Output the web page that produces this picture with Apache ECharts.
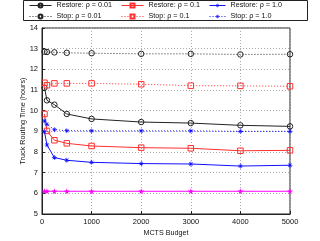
<!DOCTYPE html>
<html><head><meta charset="utf-8">
<script src="https://cdn.jsdelivr.net/npm/echarts@6/dist/echarts.min.js"></script>
<style>html,body{margin:0;padding:0;background:#fff}#c{width:320px;height:241px}</style>
</head><body><div id="c"></div>
<script>
const budgets = [50, 100, 250, 500, 1000, 2000, 3000, 4000, 5000];
const restore001 = [11.11, 10.5, 10.29, 9.84, 9.6, 9.45, 9.4, 9.29, 9.24];
const stop001 = [12.85, 12.84, 12.82, 12.8, 12.78, 12.75, 12.75, 12.72, 12.73];
const restore01 = [9.84, 9.02, 8.57, 8.42, 8.29, 8.21, 8.18, 8.06, 8.08];
const stop01 = [11.35, 11.23, 11.32, 11.32, 11.32, 11.28, 11.21, 11.2, 11.18];
const restore10 = [8.98, 8.34, 7.73, 7.6, 7.5, 7.44, 7.42, 7.32, 7.36];
const stop10 = [9.5, 9.34, 9.08, 9.03, 9.02, 9.02, 9.02, 9.0, 9.0];
const baseline = [6.1, 6.1, 6.1, 6.1, 6.1, 6.1, 6.1, 6.1, 6.1];
const xTicks = [0, 1000, 2000, 3000, 4000, 5000];
const yTicks = [5, 6, 7, 8, 9, 10, 11, 12, 13, 14];

const ast = 'path://M0,4.4L10,4.4L10,5.6L0,5.6Z M4.4,0L5.6,0L5.6,10L4.4,10Z M1.2,2L2,1.2L8.8,8L8,8.8Z M8,1.2L8.8,2L2,8.8L1.2,8Z';
const star = 'path://M5,0L6.2,3.6L10,3.6L6.9,5.8L8.1,9.5L5,7.2L1.9,9.5L3.1,5.8L0,3.6L3.8,3.6Z';
const pair = a => budgets.map((b, i) => [b, a[i]]);
const font = 'Liberation Sans, Arial, sans-serif';

function mk(name, data, color, dashed, symbol, size, filled) {
  return {
    name, type: 'line', data: pair(data), symbol, symbolSize: size, showAllSymbol: true,
    lineStyle: { color, width: 1, type: dashed ? [1, 2] : 'solid' },
    itemStyle: { color: filled ? color : 'rgba(255,255,255,0)', borderColor: color, borderWidth: filled ? 0 : 1 },
    emphasis: { disabled: true }, animation: false, z: 3
  };
}

const series = [
  mk('Restore: ρ = 0.01', restore001, '#222', false, 'circle', 5.5, false),
  mk('Stop: ρ = 0.01', stop001, '#222', true, 'circle', 5.5, false),
  mk('Restore: ρ = 0.1', restore01, '#ff3030', false, 'rect', 5.5, false),
  mk('Stop: ρ = 0.1', stop01, '#ff3030', true, 'rect', 5.5, false),
  mk('Restore: ρ = 1.0', restore10, '#1010ff', false, ast, 5, true),
  mk('Stop: ρ = 1.0', stop10, '#1010ff', true, ast, 5, true),
  mk('Baseline', baseline, '#ff00ff', false, star, 6, true)
];

function leg(left, w, names) {
  return {
    data: names, orient: 'vertical', left, top: 2, itemWidth: w, itemHeight: 5, itemGap: 4,
    lineStyle: { width: 1 },
    textStyle: { fontSize: 7.2, fontFamily: font, color: '#111' }, selectedMode: false, padding: 0
  };
}

const chart = echarts.init(document.getElementById('c'), null, { renderer: 'canvas' });
chart.setOption({
  animation: false,
  grid: { left: 42, right: 30, top: 28, bottom: 27, outerBoundsMode: 'none', containLabel: false,
    show: true, borderColor: '#222', borderWidth: 1 },
  legend: [
    leg(29, 22, ['Restore: ρ = 0.01', 'Stop: ρ = 0.01']),
    leg(121, 22, ['Restore: ρ = 0.1', 'Stop: ρ = 0.1']),
    leg(209, 16, ['Restore: ρ = 1.0', 'Stop: ρ = 1.0'])
  ],
  graphic: [{ type: 'rect', shape: { x: 23.5, y: 0.5, width: 284, height: 20 }, style: { fill: 'none', stroke: '#222', lineWidth: 1 }, z: -1 }],
  xAxis: {
    type: 'value', min: 0, max: 5000, interval: 1000,
    name: 'MCTS Budget', nameLocation: 'middle', nameGap: 16, nameMoveOverlap: false,
    nameTextStyle: { fontSize: 7.2, fontFamily: font, color: '#111' },
    axisLine: { lineStyle: { color: '#222' } },
    axisTick: { inside: true, length: 3, lineStyle: { color: '#222' } },
    axisLabel: { fontSize: 7.5, fontFamily: font, color: '#111', margin: 4,
      formatter: v => xTicks.includes(v) ? String(v) : '' },
    splitLine: { show: true, lineStyle: { color: '#aaa', type: [1, 2] } }
  },
  yAxis: {
    type: 'value', min: 5, max: 14, interval: 1,
    name: 'Truck Routing Time (hours)', nameLocation: 'middle', nameGap: 15, nameMoveOverlap: false,
    nameTextStyle: { fontSize: 7.2, fontFamily: font, color: '#111' },
    axisLine: { show: true, lineStyle: { color: '#222' } },
    axisTick: { show: true, inside: true, length: 3, lineStyle: { color: '#222' } },
    axisLabel: { fontSize: 7.5, fontFamily: font, color: '#111', margin: 4,
      formatter: v => yTicks.includes(v) ? String(v) : '' },
    splitLine: { show: true, lineStyle: { color: '#aaa', type: [1, 2] } }
  },
  series
});
</script></body></html>
